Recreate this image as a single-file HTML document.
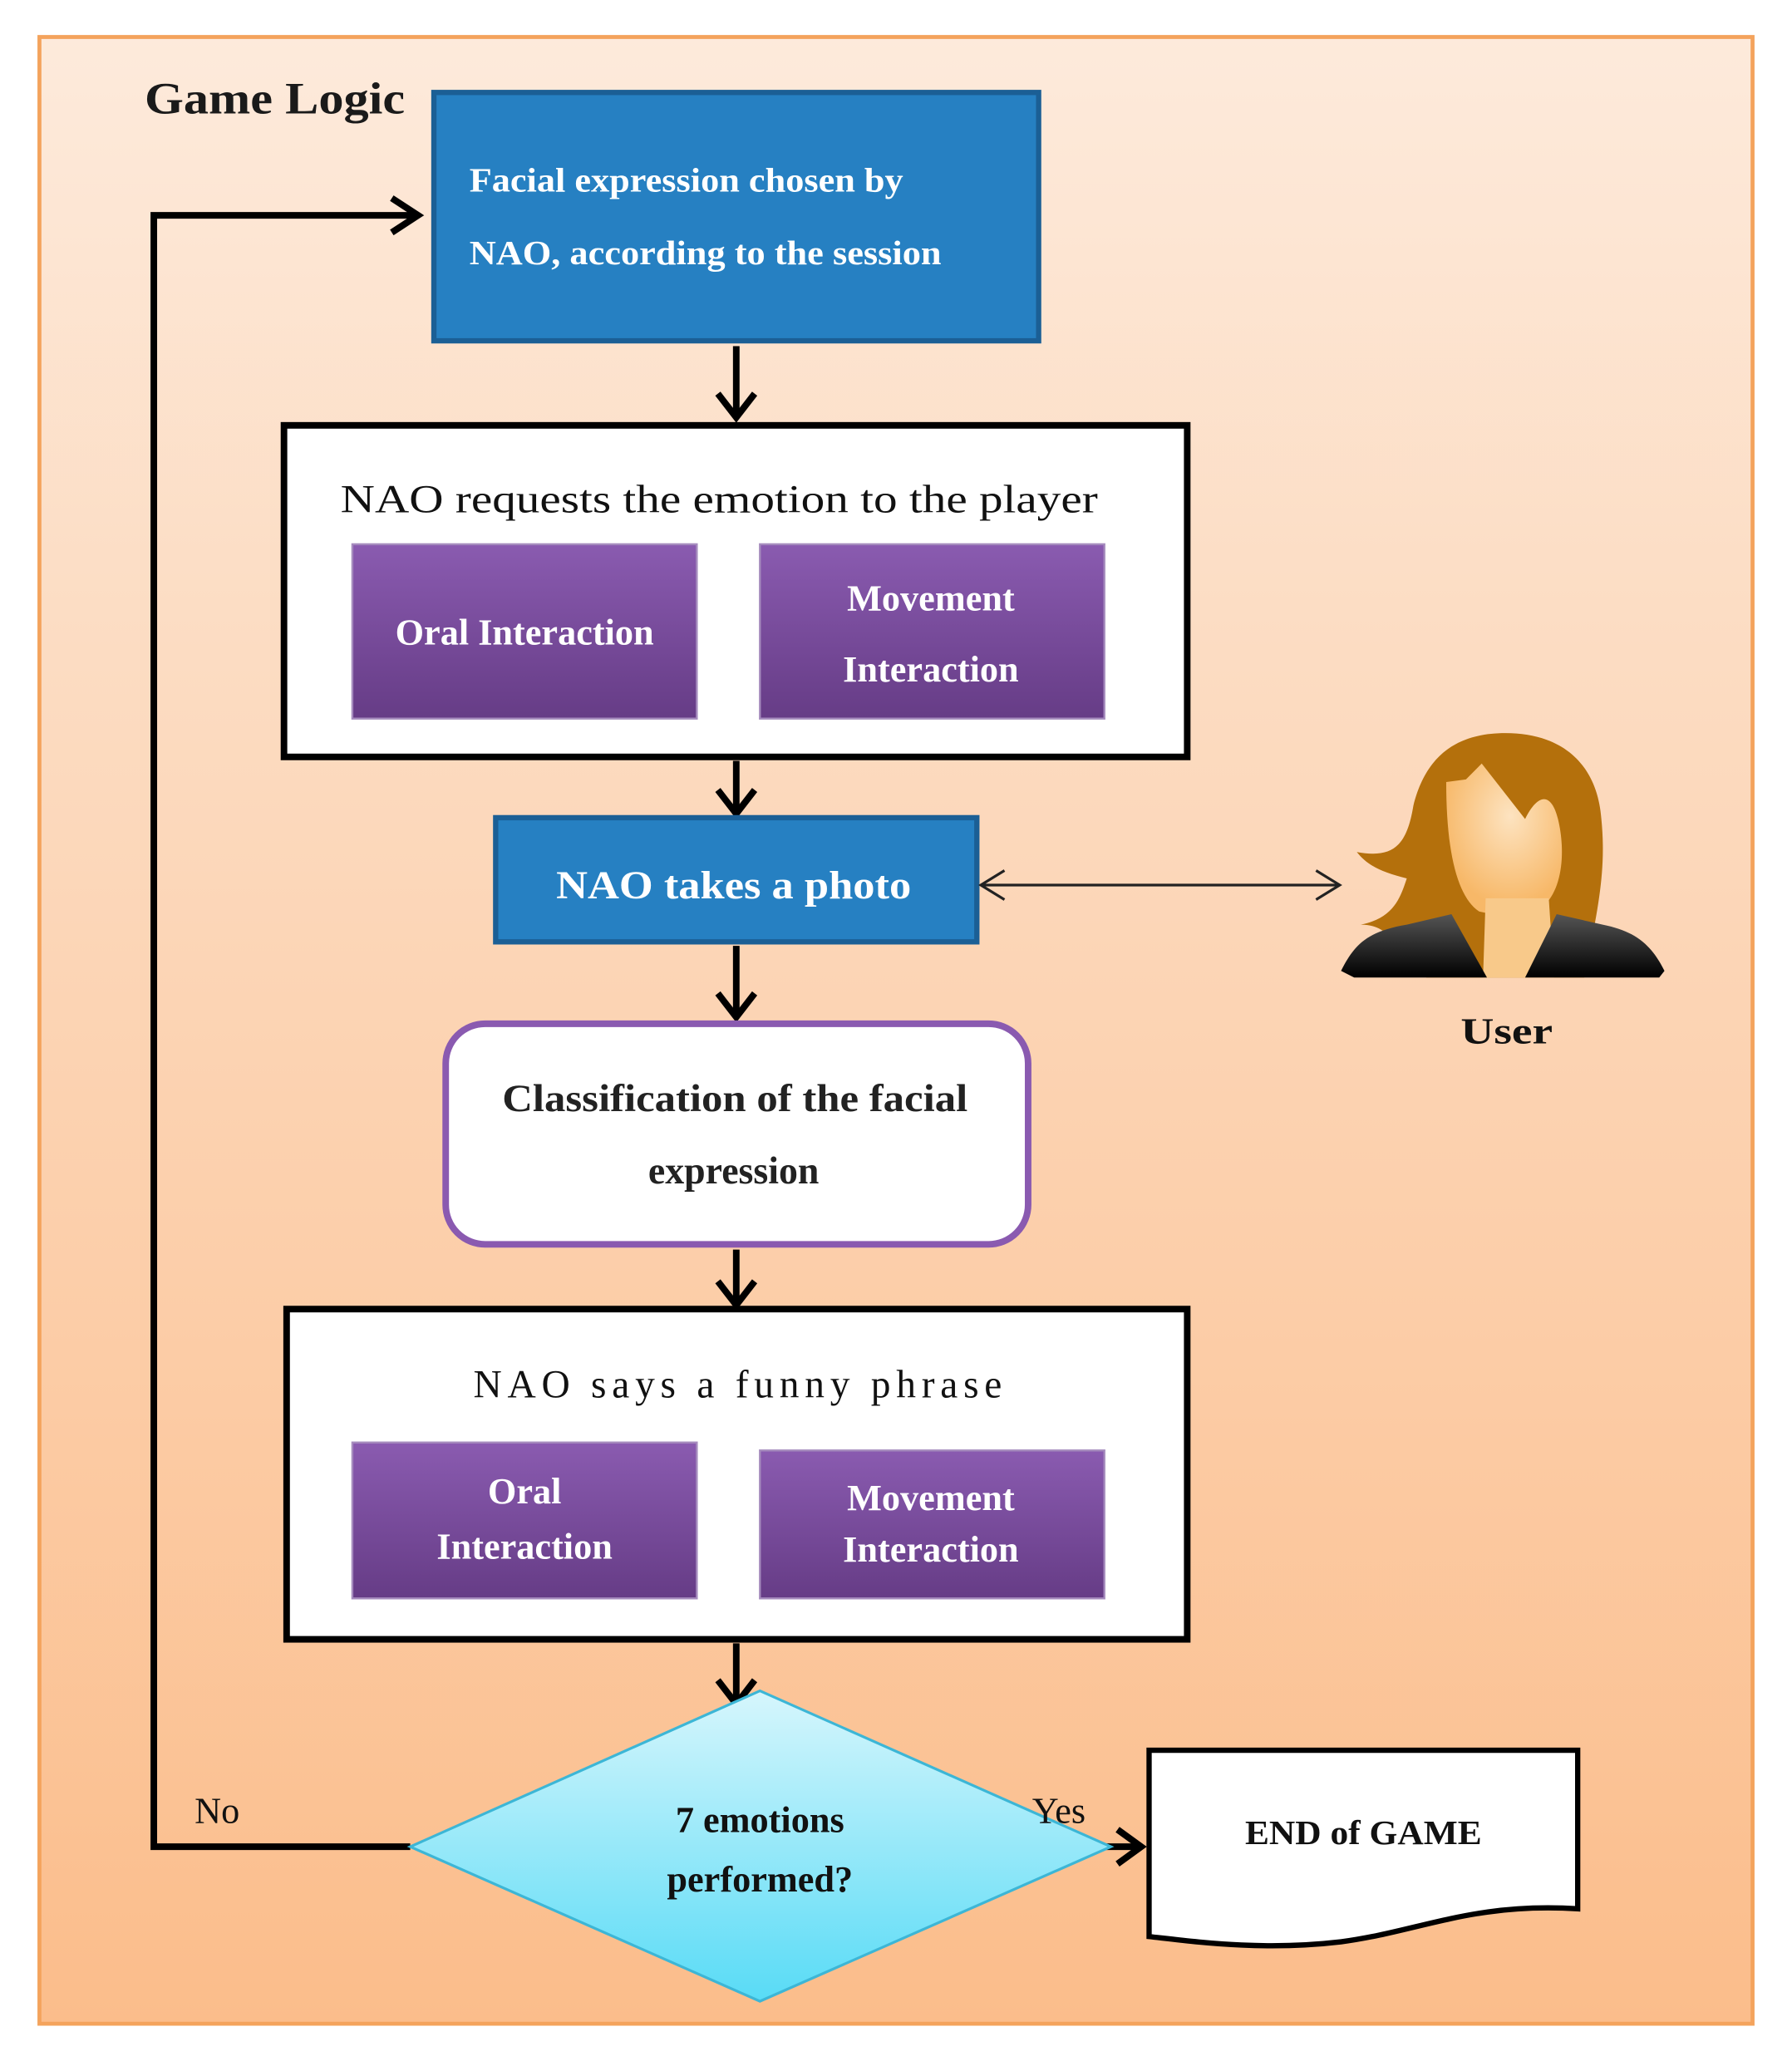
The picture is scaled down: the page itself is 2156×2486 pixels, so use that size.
<!DOCTYPE html>
<html><head><meta charset="utf-8"><style>html,body{margin:0;padding:0;background:#fff}svg{display:block}</style></head>
<body>
<svg width="2156" height="2486" viewBox="0 0 1363 1564" preserveAspectRatio="none" xmlns="http://www.w3.org/2000/svg" font-family="'Liberation Serif', serif">
<defs>
<linearGradient id="bg" x1="0" y1="0" x2="0" y2="1"><stop offset="0" stop-color="#fdeadb"/><stop offset="1" stop-color="#fbbd8b"/></linearGradient>
<linearGradient id="pur" x1="0" y1="0" x2="0" y2="1"><stop offset="0" stop-color="#8a5bb0"/><stop offset="1" stop-color="#663c86"/></linearGradient>
<linearGradient id="dia" x1="0" y1="0" x2="0" y2="1"><stop offset="0" stop-color="#d6f6fc"/><stop offset="1" stop-color="#58dbf6"/></linearGradient>
<radialGradient id="face" cx="0.55" cy="0.35" r="0.6"><stop offset="0" stop-color="#fde3c0"/><stop offset="1" stop-color="#f7b868"/></radialGradient>
<linearGradient id="suit" x1="0" y1="0" x2="0" y2="1"><stop offset="0" stop-color="#555"/><stop offset="1" stop-color="#000"/></linearGradient>
</defs>
<rect x="30" y="28" width="1303" height="1504" fill="url(#bg)" stroke="#f4a35c" stroke-width="3"/>
<text x="110" y="86" font-size="34" font-weight="bold" fill="#1a1a1a" textLength="198" lengthAdjust="spacingAndGlyphs">Game Logic</text>

<rect x="330" y="70" width="460" height="188" fill="#2680c2" stroke="#1b5f95" stroke-width="4"/>
<text x="357" y="145" font-size="26" font-weight="bold" fill="#fff" textLength="330" lengthAdjust="spacingAndGlyphs">Facial expression chosen by</text>
<text x="357" y="200" font-size="26" font-weight="bold" fill="#fff" textLength="359" lengthAdjust="spacingAndGlyphs">NAO, according to the session</text>

<g stroke="#000" stroke-width="5" fill="none">
<line x1="560" y1="262" x2="560" y2="316"/><polyline points="546,298 560,316 574,298"/>
<line x1="560" y1="576" x2="560" y2="616"/><polyline points="546,598 560,616 574,598"/>
<line x1="560" y1="716" x2="560" y2="770"/><polyline points="546,752 560,770 574,752"/>
<line x1="560" y1="946" x2="560" y2="988"/><polyline points="546,970 560,988 574,970"/>
<line x1="560" y1="1244" x2="560" y2="1290"/><polyline points="546,1272 560,1290 574,1272"/>
<polyline points="312,1398 117,1398 117,163 318,163"/><polyline points="298,150 318,163 298,176"/>
<line x1="808" y1="1398" x2="868" y2="1398"/><polyline points="850,1385 868,1398 850,1411"/>
</g>

<rect x="216" y="322" width="687" height="251" fill="#fff" stroke="#000" stroke-width="5"/>
<text x="259" y="388" font-size="30" fill="#111" textLength="576" lengthAdjust="spacingAndGlyphs">NAO requests the emotion to the player</text>
<rect x="268" y="412" width="262" height="132" fill="url(#pur)" stroke="#a58bbd" stroke-width="1.5"/>
<rect x="578" y="412" width="262" height="132" fill="url(#pur)" stroke="#a58bbd" stroke-width="1.5"/>
<text x="399" y="488" font-size="28" font-weight="bold" text-anchor="middle" fill="#fff">Oral Interaction</text>
<text x="708" y="462" font-size="28" font-weight="bold" text-anchor="middle" fill="#fff">Movement</text>
<text x="708" y="516" font-size="28" font-weight="bold" text-anchor="middle" fill="#fff">Interaction</text>

<rect x="377" y="619" width="366" height="94" fill="#2680c2" stroke="#1b5f95" stroke-width="4"/>
<text x="423" y="680" font-size="30" font-weight="bold" fill="#fff" textLength="270" lengthAdjust="spacingAndGlyphs">NAO takes a photo</text>
<g stroke="#222" stroke-width="2" fill="none">
<line x1="746" y1="670" x2="1019" y2="670"/>
<polyline points="764,659 746,670 764,681"/><polyline points="1001,659 1019,670 1001,681"/>
</g>

<path d="M1085,740 C1060,720 1060,700 1035,700 C1060,695 1065,680 1070,665 C1050,660 1040,655 1032,645 C1060,650 1070,640 1075,610 C1085,570 1110,555 1145,555 C1190,555 1215,580 1218,620 C1222,660 1215,690 1205,740 Z" fill="#b4700c"/>
<path d="M1100,592 L1115,590 L1127,578 L1160,620 C1170,600 1180,600 1185,620 C1190,640 1190,670 1175,685 C1165,690 1145,695 1125,690 C1110,680 1100,650 1100,592 Z" fill="url(#face)"/>
<path d="M1130,680 L1178,680 L1182,740 L1128,740 Z" fill="#f8c98a"/>
<path d="M1020,735 C1030,715 1040,705 1070,700 L1104,692 L1131,740 L1030,740 Z" fill="url(#suit)"/>
<path d="M1266,735 C1256,715 1244,705 1219,700 L1184,692 L1160,740 L1262,740 Z" fill="url(#suit)"/>
<text x="1111" y="790" font-size="28" font-weight="bold" fill="#111" textLength="70" lengthAdjust="spacingAndGlyphs">User</text>

<rect x="339" y="775" width="443" height="167" rx="30" fill="#fff" stroke="#8a5ab0" stroke-width="5"/>
<text x="382" y="841" font-size="29" font-weight="bold" fill="#222" textLength="354" lengthAdjust="spacingAndGlyphs">Classification of the facial</text>
<text x="558" y="896" font-size="29" font-weight="bold" text-anchor="middle" fill="#222">expression</text>

<rect x="218" y="991" width="685" height="250" fill="#fff" stroke="#000" stroke-width="5"/>
<text x="360" y="1058" font-size="30" fill="#111" textLength="402" lengthAdjust="spacing">NAO says a funny phrase</text>
<rect x="268" y="1092" width="262" height="118" fill="url(#pur)" stroke="#a58bbd" stroke-width="1.5"/>
<rect x="578" y="1098" width="262" height="112" fill="url(#pur)" stroke="#a58bbd" stroke-width="1.5"/>
<text x="399" y="1138" font-size="28" font-weight="bold" text-anchor="middle" fill="#fff">Oral</text>
<text x="399" y="1180" font-size="28" font-weight="bold" text-anchor="middle" fill="#fff">Interaction</text>
<text x="708" y="1143" font-size="28" font-weight="bold" text-anchor="middle" fill="#fff">Movement</text>
<text x="708" y="1182" font-size="28" font-weight="bold" text-anchor="middle" fill="#fff">Interaction</text>

<polygon points="578,1280 845,1398 578,1515 312,1398" fill="url(#dia)" stroke="#3cb6d6" stroke-width="2"/>
<text x="578" y="1387" font-size="28" font-weight="bold" text-anchor="middle" fill="#111">7 emotions</text>
<text x="578" y="1432" font-size="28" font-weight="bold" text-anchor="middle" fill="#111">performed?</text>
<text x="148" y="1380" font-size="28" fill="#111">No</text>
<text x="785" y="1380" font-size="28" fill="#111">Yes</text>

<path d="M874,1325 L1200,1325 L1200,1445 C1120,1440 1080,1462 1020,1470 C960,1477 910,1470 874,1466 Z" fill="#fff" stroke="#000" stroke-width="4"/>
<text x="947" y="1396" font-size="26" font-weight="bold" fill="#111" textLength="180" lengthAdjust="spacingAndGlyphs">END of GAME</text>
</svg>
</body></html>
